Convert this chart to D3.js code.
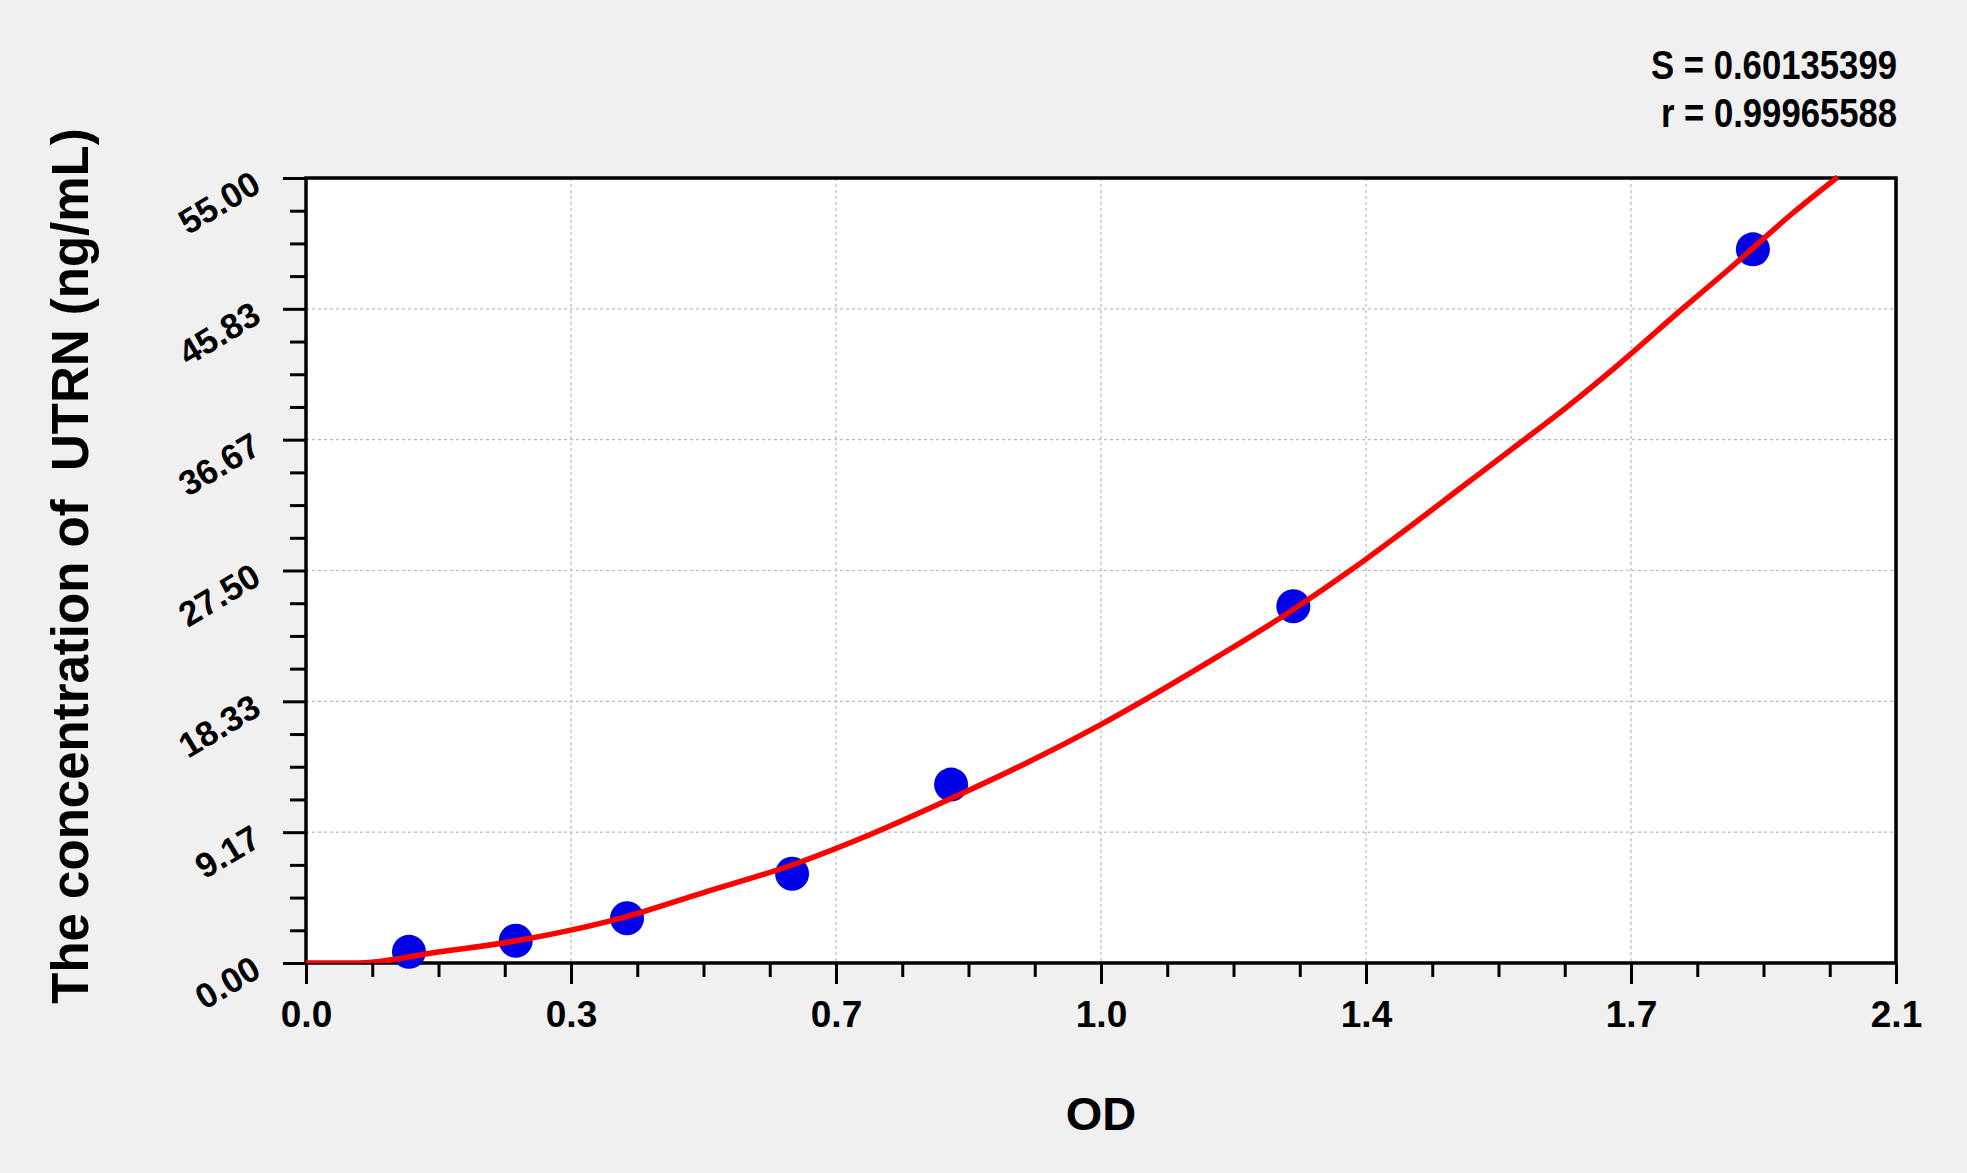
<!DOCTYPE html>
<html>
<head>
<meta charset="utf-8">
<script src="https://cdn.jsdelivr.net/npm/d3@7"></script>
<style>
  html, body { margin: 0; padding: 0; background: #f0f0f0; }
  svg { display: block; font-family: "Liberation Sans", Arial, sans-serif; font-weight: bold; }
</style>
</head>
<body>
<div id="chart"></div>
<script>
// standards
const odValues = [0.136, 0.277, 0.424, 0.642, 0.852, 1.304, 1.911]
const concValues = [0.78, 1.56, 3.13, 6.25, 12.5, 25, 50]

// fitted curve
const curveOD = [0, 0.071, 0.166, 0.276, 0.345, 0.421, 0.523, 0.641, 0.750, 0.851, 0.955, 1.046,
  1.205, 1.302, 1.382, 1.446, 1.528, 1.605, 1.664, 1.735, 1.817, 1.877, 1.965, 2.023]
const curveConc = [0, 0, 0.70, 1.54, 2.25, 3.22, 4.90, 6.85, 9.11, 11.5, 14.1, 16.6,
  21.5, 24.7, 27.6, 30.1, 33.4, 36.5, 38.9, 42.0, 45.8, 48.5, 52.6, 55.07]

const xTicks = [0, 0.35, 0.7, 1.05, 1.4, 1.75, 2.1]
const xTickLabels = ['0.0', '0.3', '0.7', '1.0', '1.4', '1.7', '2.1']
const yTicks = [0, 9.1667, 18.3333, 27.5, 36.6667, 45.8333, 55]
const yTickLabels = ['0.00', '9.17', '18.33', '27.50', '36.67', '45.83', '55.00']
const statLines = ['S = 0.60135399', 'r = 0.99965588']
const xTitle = 'OD'
const yTitle = 'The concentration of  UTRN (ng/mL)'

const width = 1967, height = 1173
const plotL = 306, plotR = 1896, plotT = 178, plotB = 963

let svg = d3.select('#chart').append('svg')
  .attr('width', width)
  .attr('height', height)

svg.append('rect')
  .attr('width', width).attr('height', height)
  .attr('fill', '#f0f0f0')

let x = d3.scaleLinear().domain([0, 2.1]).range([plotL, plotR])
let y = d3.scaleLinear().domain([0, 55]).range([plotB, plotT])

// plot background
svg.append('rect')
  .attr('x', plotL).attr('y', plotT)
  .attr('width', plotR - plotL).attr('height', plotB - plotT)
  .attr('fill', '#fff')

// grid
let grid = svg.append('g')
  .attr('stroke', '#b8b8b8')
  .attr('stroke-width', 1.2)
  .attr('stroke-dasharray', '3,3')
grid.selectAll('.gx').data(xTicks.slice(1, -1)).enter().append('line')
  .attr('x1', d => x(d)).attr('x2', d => x(d))
  .attr('y1', plotT).attr('y2', plotB)
grid.selectAll('.gy').data(yTicks.slice(1, -1)).enter().append('line')
  .attr('y1', d => y(d)).attr('y2', d => y(d))
  .attr('x1', plotL).attr('x2', plotR)

// minor ticks, four steps between major ones
let xMinor = d3.range(1, 24).filter(i => i % 4 !== 0).map(i => i * 2.1 / 24)
let yMinor = d3.range(1, 24).filter(i => i % 4 !== 0).map(i => i * 55 / 24)

svg.append('g')
  .attr('transform', `translate(0,${plotB})`)
  .call(d3.axisBottom(x).tickValues(xMinor).tickSize(14).tickSizeOuter(0).tickFormat(''))
  .call(g => g.select('.domain').remove())
  .selectAll('line').attr('stroke', '#000').attr('stroke-width', 3)

svg.append('g')
  .attr('transform', `translate(${plotL},0)`)
  .call(d3.axisLeft(y).tickValues(yMinor).tickSize(16).tickSizeOuter(0).tickFormat(''))
  .call(g => g.select('.domain').remove())
  .selectAll('line').attr('stroke', '#000').attr('stroke-width', 3)

// major x axis
let xAxis = svg.append('g')
  .attr('transform', `translate(0,${plotB})`)
  .call(d3.axisBottom(x).tickValues(xTicks).tickSize(21).tickSizeOuter(0)
    .tickFormat((d, i) => xTickLabels[i]))
xAxis.select('.domain').remove()
xAxis.selectAll('line').attr('stroke', '#000').attr('stroke-width', 3)
xAxis.selectAll('text')
  .attr('fill', '#000')
  .attr('font-size', 37)
  .attr('font-family', '"Liberation Sans", Arial, sans-serif')
  .attr('font-weight', 'bold')
  .attr('dy', null)
  .attr('y', 64)

// major y axis
let yAxis = svg.append('g')
  .attr('transform', `translate(${plotL},0)`)
  .call(d3.axisLeft(y).tickValues(yTicks).tickSize(23).tickSizeOuter(0)
    .tickFormat((d, i) => yTickLabels[i]))
yAxis.select('.domain').remove()
yAxis.selectAll('line').attr('stroke', '#000').attr('stroke-width', 3)
yAxis.selectAll('text')
  .attr('fill', '#000')
  .attr('font-size', 35)
  .attr('font-family', '"Liberation Sans", Arial, sans-serif')
  .attr('font-weight', 'bold')
  .attr('x', null).attr('dy', null)
  .attr('text-anchor', 'end')
  .attr('transform', 'translate(-43,12) rotate(-31)')

// frame
svg.append('rect')
  .attr('x', plotL).attr('y', plotT)
  .attr('width', plotR - plotL).attr('height', plotB - plotT)
  .attr('fill', 'none')
  .attr('stroke', '#000')
  .attr('stroke-width', 3.5)

svg.append('clipPath').attr('id', 'plot-clip')
  .append('rect')
  .attr('x', plotL).attr('y', plotT - 3)
  .attr('width', plotR - plotL).attr('height', plotB - plotT + 3)

// points
svg.append('g')
  .selectAll('circle')
  .data(odValues.map((d, i) => ({ od: d, c: concValues[i] })))
  .enter()
  .append('circle')
  .attr('cx', d => x(d.od))
  .attr('cy', d => y(d.c))
  .attr('r', 17)
  .attr('fill', '#0000e6')

// fitted curve
let line = d3.line()
  .x(d => x(d[0]))
  .y(d => y(d[1]))
  .curve(d3.curveMonotoneX)

svg.append('path')
  .datum(curveOD.map((d, i) => [d, curveConc[i]]))
  .attr('clip-path', 'url(#plot-clip)')
  .attr('d', line)
  .attr('fill', 'none')
  .attr('stroke', '#ff0000')
  .attr('stroke-width', 5.5)

// statistics
svg.append('g')
  .selectAll('text')
  .data(statLines)
  .enter()
  .append('text')
  .attr('x', 1897)
  .attr('y', (d, i) => 79 + i * 48)
  .attr('text-anchor', 'end')
  .attr('font-size', 40)
  .attr('textLength', (d, i) => i ? 236 : 246)
  .attr('lengthAdjust', 'spacingAndGlyphs')
  .text(d => d)

// titles
svg.append('text')
  .attr('x', (plotL + plotR) / 2)
  .attr('y', 1130)
  .attr('text-anchor', 'middle')
  .attr('font-size', 47)
  .text(xTitle)

svg.append('text')
  .attr('transform', 'translate(88,566) rotate(-90)')
  .attr('text-anchor', 'middle')
  .attr('font-size', 51)
  .style('white-space', 'pre')
  .text(yTitle)
</script>
</body>
</html>
